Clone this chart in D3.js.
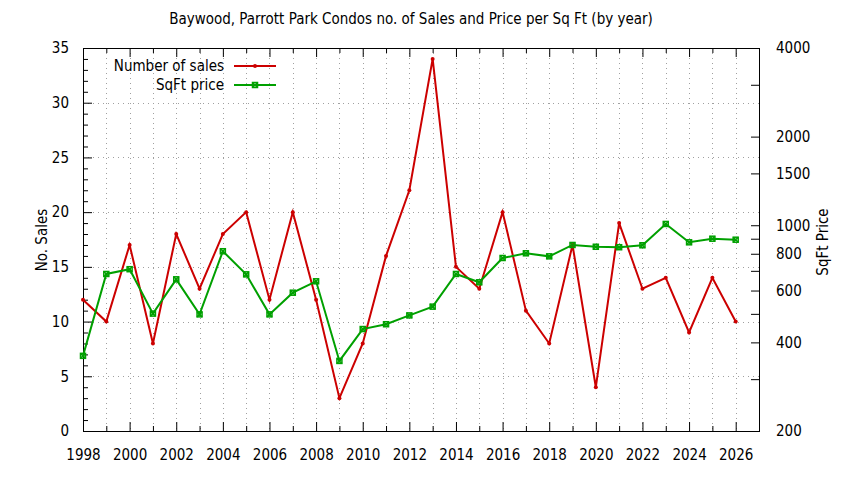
<!DOCTYPE html>
<html>
<head>
<meta charset="utf-8">
<script src="https://cdn.jsdelivr.net/npm/d3@7"></script>
<style>
  body { margin: 0; background: #fff; }
  svg text { font-family: "DejaVu Sans Condensed", "DejaVu Sans", sans-serif; font-stretch: condensed; fill: #000; }
</style>
</head>
<body>
<div id="wrapper"></div>
<script>
const years = [1998, 1999, 2000, 2001, 2002, 2003, 2004, 2005, 2006, 2007, 2008, 2009, 2010, 2011, 2012,
  2013, 2014, 2015, 2016, 2017, 2018, 2019, 2020, 2021, 2022, 2023, 2024, 2025, 2026];
const numberOfSales = [12, 10, 17, 8, 18, 13, 18, 20, 12, 20, 12, 3, 8, 16, 22,
  34, 15, 13, 20, 11, 8, 17, 4, 19, 13, 14, 9, 14, 10];
const sqftPrice = [360, 683, 709, 501, 655, 498, 816, 681, 498, 590, 645, 346, 444, 461, 494,
  529, 683, 640, 774, 803, 784, 857, 845, 842, 855, 1010, 875, 900, 893];

const salesTicks = [0, 5, 10, 15, 20, 25, 30, 35];
const priceTicks = [200, 400, 600, 800, 1000, 1500, 2000, 4000];
const priceMinorTicks = [300, 500, 700, 900, 3000];
const yearTicks = [1998, 2000, 2002, 2004, 2006, 2008, 2010, 2012, 2014, 2016, 2018, 2020, 2022, 2024, 2026];

const titleText = "Baywood, Parrott Park Condos no. of Sales and Price per Sq Ft (by year)";
const seriesNames = ["Number of sales", "SqFt price"];

const red = "#cc0000";
const green = "#00a000";

let dimensions = {
  width: 844,
  height: 480,
  margin: { top: 48, right: 85, bottom: 49, left: 83 }
};
dimensions.boundedWidth = dimensions.width - dimensions.margin.left - dimensions.margin.right;
dimensions.boundedHeight = dimensions.height - dimensions.margin.top - dimensions.margin.bottom;

const wrapper = d3.select("#wrapper")
  .append("svg")
  .attr("width", dimensions.width)
  .attr("height", dimensions.height);

const bounds = wrapper.append("g")
  .attr("transform", `translate(${dimensions.margin.left},${dimensions.margin.top})`);

const xScale = d3.scaleLinear()
  .domain([1998, 2027])
  .range([0, dimensions.boundedWidth]);

const yScale = d3.scaleLinear()
  .domain([0, 35])
  .range([dimensions.boundedHeight, 0]);

const y2Scale = d3.scaleLog()
  .domain([200, 4000])
  .range([dimensions.boundedHeight, 0]);

// grid
const grid = bounds.append("g")
  .attr("stroke", "#a0a0a0")
  .attr("stroke-width", 1)
  .attr("stroke-dasharray", "1,4");

grid.selectAll(".vgrid")
  .data(d3.range(1999, 2027))
  .join("line")
  .attr("x1", d => Math.round(xScale(d)) + 0.5)
  .attr("x2", d => Math.round(xScale(d)) + 0.5)
  .attr("y1", 0)
  .attr("y2", dimensions.boundedHeight);

grid.selectAll(".hgrid")
  .data(salesTicks.slice(1, -1))
  .join("line")
  .attr("x1", 0)
  .attr("x2", dimensions.boundedWidth)
  .attr("y1", d => Math.round(yScale(d)) + 0.5)
  .attr("y2", d => Math.round(yScale(d)) + 0.5);

// axes
const xAxis = bounds.append("g")
  .attr("transform", `translate(0,${dimensions.boundedHeight})`)
  .call(d3.axisBottom(xScale).tickValues(yearTicks).tickFormat(d3.format("d")).tickSize(-9).tickPadding(18));

const xMinor = bounds.append("g")
  .attr("transform", `translate(0,${dimensions.boundedHeight})`)
  .call(d3.axisBottom(xScale).tickValues(d3.range(1999, 2027, 2)).tickFormat("").tickSize(-5));

const xTop = bounds.append("g")
  .call(d3.axisTop(xScale).tickValues(yearTicks).tickFormat("").tickSize(-9));

const xTopMinor = bounds.append("g")
  .call(d3.axisTop(xScale).tickValues(d3.range(1999, 2027, 2)).tickFormat("").tickSize(-5));

const yAxis = bounds.append("g")
  .call(d3.axisLeft(yScale).tickValues(salesTicks).tickSize(-9).tickPadding(14));

const yMinor = bounds.append("g")
  .call(d3.axisLeft(yScale).tickValues(d3.range(0, 36).filter(d => d % 5 != 0)).tickFormat("").tickSize(-5));

const y2Axis = bounds.append("g")
  .attr("transform", `translate(${dimensions.boundedWidth},0)`)
  .call(d3.axisRight(y2Scale).tickValues(priceTicks).tickFormat(d3.format("d")).tickSize(-8).tickPadding(17));

const y2Minor = bounds.append("g")
  .attr("transform", `translate(${dimensions.boundedWidth},0)`)
  .call(d3.axisRight(y2Scale).tickValues(priceMinorTicks).tickFormat("").tickSize(-8));

bounds.selectAll(".domain").remove();
bounds.selectAll(".tick line").attr("stroke", "#000").attr("stroke-width", 1);
bounds.selectAll(".tick text").style("font-size", "15px").attr("fill", "#000");

// border
bounds.append("rect")
  .attr("x", 0.5)
  .attr("y", 0.5)
  .attr("width", dimensions.boundedWidth)
  .attr("height", dimensions.boundedHeight)
  .attr("fill", "none")
  .attr("stroke", "#000")
  .attr("stroke-width", 1);

// lines
const salesLine = d3.line()
  .x((d, i) => xScale(years[i]))
  .y(d => yScale(d));

const priceLine = d3.line()
  .x((d, i) => xScale(years[i]))
  .y(d => y2Scale(d));

bounds.append("path")
  .attr("d", salesLine(numberOfSales))
  .attr("fill", "none")
  .attr("stroke", red)
  .attr("stroke-width", 2);

bounds.append("path")
  .attr("d", priceLine(sqftPrice))
  .attr("fill", "none")
  .attr("stroke", green)
  .attr("stroke-width", 2);

function redMark(g, x, y) {
  g.append("circle").attr("cx", x).attr("cy", y).attr("r", 2).attr("fill", red);
}
function greenMark(g, x, y) {
  g.append("rect").attr("x", x - 2.5).attr("y", y - 2.5).attr("width", 5).attr("height", 5)
    .attr("fill", "none").attr("stroke", green).attr("stroke-width", 1.5);
  g.append("path").attr("d", `M${x - 2.5},${y - 2.5}L${x + 2.5},${y + 2.5}M${x - 2.5},${y + 2.5}L${x + 2.5},${y - 2.5}`)
    .attr("stroke", green).attr("stroke-width", 1.5);
}

const marks = bounds.append("g");
numberOfSales.forEach((d, i) => redMark(marks, xScale(years[i]), yScale(d)));
sqftPrice.forEach((d, i) => greenMark(marks, xScale(years[i]), y2Scale(d)));

// legend
const legend = wrapper.append("g");
[[seriesNames[0], red, 66], [seriesNames[1], green, 85]].forEach(([name, color, ly], i) => {
  legend.append("text")
    .attr("x", 224)
    .attr("y", ly + 5)
    .attr("text-anchor", "end")
    .style("font-size", "15px")
    .text(name);
  legend.append("line")
    .attr("x1", 234).attr("x2", 276)
    .attr("y1", ly).attr("y2", ly)
    .attr("stroke", color).attr("stroke-width", 2);
  if (i == 0) redMark(legend, 255, ly); else greenMark(legend, 255, ly);
});

// labels
wrapper.append("text")
  .attr("x", 411)
  .attr("y", 24)
  .attr("text-anchor", "middle")
  .style("font-size", "15px")
  .text(titleText);

wrapper.append("text")
  .attr("transform", `translate(47,240) rotate(-90)`)
  .attr("text-anchor", "middle")
  .style("font-size", "15px")
  .text("No. Sales");

wrapper.append("text")
  .attr("transform", `translate(828,242) rotate(-90)`)
  .attr("text-anchor", "middle")
  .style("font-size", "15px")
  .text("SqFt Price");
</script>
</body>
</html>
